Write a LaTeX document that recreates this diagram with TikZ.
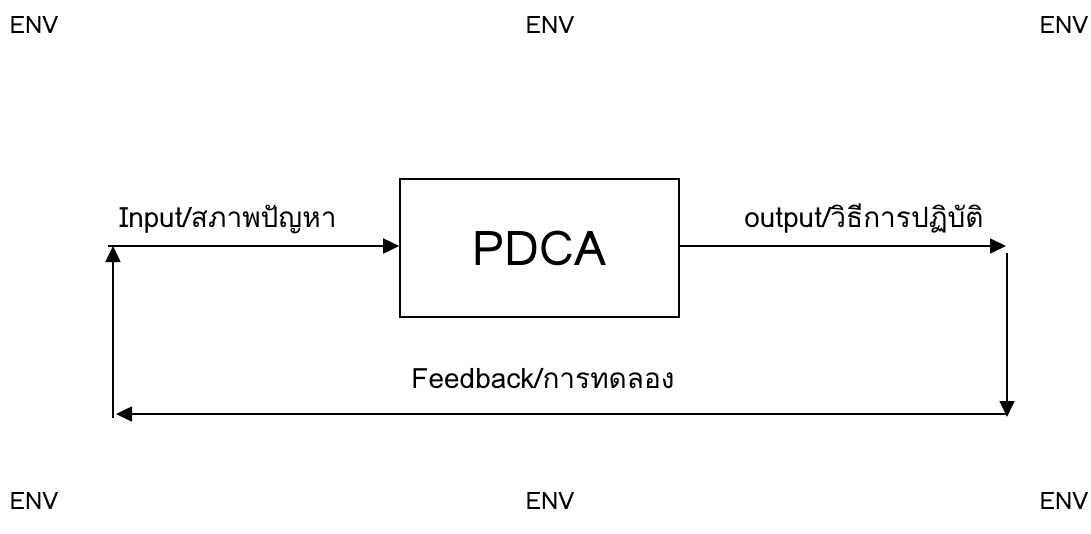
\documentclass[tikz,border=0pt]{standalone}
\usepackage{fontspec}
\setmainfont[Script=Thai]{Loma}
\usetikzlibrary{arrows.meta}
\begin{document}
\begin{tikzpicture}[x=1pt,y=-1pt,
  lbl/.style={font=\fontsize{28}{32}\selectfont, inner sep=0pt, anchor=base},
  env/.style={font=\fontsize{24}{28}\selectfont, inner sep=0pt, anchor=base},
  conn/.style={line width=1.6pt, -{Triangle[length=16pt,width=15pt]}}]
\useasboundingbox (0,0) rectangle (1091,533);
% ENV markers
\node[env] (e1) at (34,33) {ENV};
\node[env] (e2) at (550,33) {ENV};
\node[env] (e3) at (1064,33) {ENV};
\node[env] (e4) at (34,509) {ENV};
\node[env] (e5) at (550,509) {ENV};
\node[env] (e6) at (1064,509) {ENV};
% box
\node[draw, line width=1.6pt, minimum width=279pt, minimum height=138pt, inner sep=0pt,
      font=\fontsize{48}{52}\selectfont] (pdca) at (539.5,248) {PDCA};
% coordinates
\coordinate (inL) at (108,246);
\coordinate (outR) at (1006,246);
\coordinate (rTop) at (1007,253);
\coordinate (rBot) at (1007,417);
\coordinate (bL) at (116,414);
\coordinate (lBot) at (113,418);
\coordinate (lTop) at (113,246);
% connectors
\draw[conn] (inL) -- (inL -| pdca.west);
\draw[conn] (pdca.east |- outR) -- (outR);
\draw[conn] (rTop) -- (rBot);
\draw[conn] (rBot |- bL) -- (bL);
\draw[conn] (lBot) -- (lTop);
% labels
\node[lbl] (lin) at (228,227) {Input/สภาพปัญหา};
\node[lbl] (lout) at (864,227) {output/วิธีการปฏิบัติ};
\node[lbl] (lfb) at (543,388) {Feedback/การทดลอง};
\end{tikzpicture}
\end{document}
